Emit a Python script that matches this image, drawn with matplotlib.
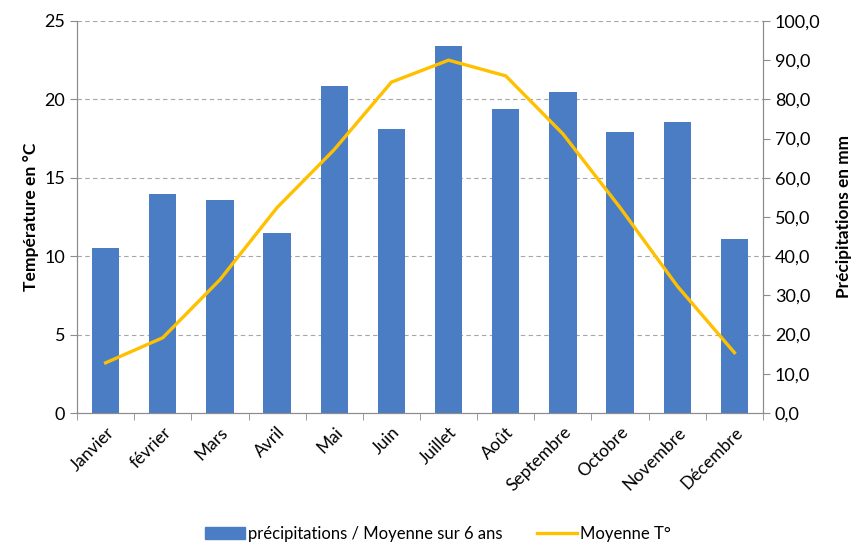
import matplotlib
matplotlib.use("Agg")
import matplotlib.pyplot as plt
from matplotlib.ticker import MultipleLocator, FuncFormatter
from matplotlib.patches import Patch
from matplotlib.lines import Line2D

# ========= données =========
mois = ["Janvier", "février", "Mars", "Avril", "Mai", "Juin", "Juillet",
        "Août", "Septembre", "Octobre", "Novembre", "Décembre"]
precip_mm = [42.2, 55.8, 54.3, 45.8, 83.4, 72.5, 93.6, 77.6, 82.0, 71.6, 74.2, 44.4]
temp_moy = [3.2, 4.8, 8.5, 13.1, 16.8, 21.1, 22.5, 21.5, 17.8, 13.1, 8.1, 3.85]

plt.rcParams["font.family"] = ["Lato", "DejaVu Sans"]

BLEU = "#4A7DC4"
OR = "#FFC000"
GRIS = "#8C8C8C"

fig = plt.figure(figsize=(8.54, 5.45), dpi=100)
ax = fig.add_axes([0.0902, 0.2422, 0.8032, 0.7193])
ax2 = ax.twinx()

# barres (précipitations) sur l'axe de droite
pos = range(len(mois))
ax2.bar(pos, precip_mm, width=0.48, color=BLEU, zorder=2)
for v in range(20, 101, 20):
    ax2.axhline(v, ls=(0, (4, 3)), color="#A6A6A6", lw=0.8, zorder=0)

# ligne (température) sur l'axe de gauche, au-dessus des barres
ax.set_zorder(ax2.get_zorder() + 1)
ax.patch.set_visible(False)
ax.plot(pos, temp_moy, color=OR, lw=2.4, solid_joinstyle="miter")

ax.set_xlim(-0.5, len(mois) - 0.5)
ax.set_ylim(0, 25)
ax2.set_ylim(0, 100)
ax.yaxis.set_major_locator(MultipleLocator(5))
ax2.yaxis.set_major_locator(MultipleLocator(10))
ax2.yaxis.set_major_formatter(FuncFormatter(lambda v, p: f"{v:.1f}".replace(".", ",")))

ax.set_xticks(list(pos))
ax.set_xticklabels(mois, rotation=45, ha="right", rotation_mode="anchor", fontsize=12.5)
ax.set_xticks([p + 0.5 for p in range(-1, len(mois))], minor=True)
ax.tick_params(axis="x", which="major", length=0, pad=8)
ax.tick_params(axis="x", which="minor", length=5, color=GRIS)
ax.tick_params(axis="y", labelsize=13, length=5, color=GRIS)
ax2.tick_params(axis="y", labelsize=13, length=5, color=GRIS)

for a in (ax, ax2):
    a.spines["top"].set_visible(False)
    for s in ("left", "right", "bottom"):
        a.spines[s].set_color(GRIS)

ax.set_ylabel("Température en °C", fontsize=12.6, fontweight="bold", labelpad=4)
ax2.set_ylabel("Précipitations en mm", fontsize=12.4, fontweight="bold", labelpad=11)

handles = [Patch(color=BLEU), Line2D([0], [0], color=OR, lw=2.4)]
fig.legend(handles, ["précipitations / Moyenne sur 6 ans", "Moyenne T°"],
           loc="center", bbox_to_anchor=(0.513, 0.02), ncol=2, frameon=False,
           fontsize=12, handlelength=2.4, columnspacing=2.1, handletextpad=0.15)

fig.savefig("out.png", dpi=100)
